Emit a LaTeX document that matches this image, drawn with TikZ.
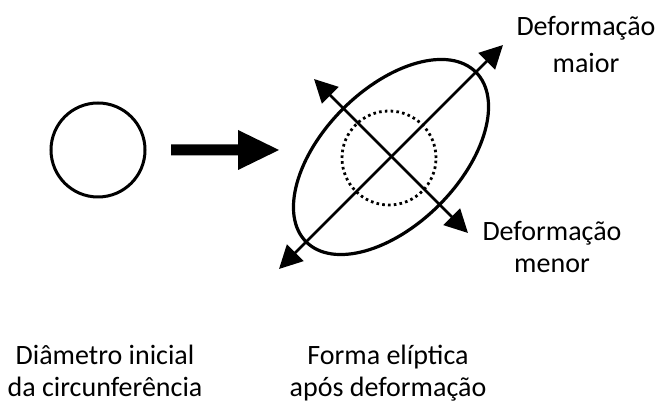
\documentclass[tikz,border=0pt]{standalone}
\usepackage{fontspec}
\setmainfont{Carlito}
\usetikzlibrary{arrows.meta}
\begin{document}
\begin{tikzpicture}[x=1pt,y=1pt,
  lbl/.style={anchor=base,inner sep=0pt,font=\fontsize{28}{32}\selectfont},
  axisline/.style={line width=2.8pt,{Triangle[length=23pt,width=23pt]}-{Triangle[length=23pt,width=23pt]}},
  outline/.style={line width=3.2pt},
  dotline/.style={line width=2.8pt,dash pattern=on 2.6pt off 3.2pt}]
\useasboundingbox (0,0) rectangle (660,403);
% initial circle
\node[circle,draw,line width=3pt,minimum size=94pt,inner sep=0pt] (ini) at (98,253) {};
% block arrow
\fill (171,247.5) -- (238,247.5) -- (238,233) -- (279,253) -- (238,273) -- (238,258.5) -- (171,258.5) -- cycle;
% ellipse
\coordinate (c) at (391,246);
\draw[outline,rotate around={45:(c)}] (c) ellipse (120 and 68);
% dotted circle
\node[circle,draw,dotline,minimum size=94pt,inner sep=0pt] (dc) at (389,245) {};
% axes
\coordinate (maj1) at (279,134);
\coordinate (maj2) at (503,358);
\coordinate (min1) at (314,324);
\coordinate (min2) at (468,170);
\draw[axisline] (maj1) -- (maj2);
\draw[axisline] (min1) -- (min2);
% labels
\node[lbl] (l1a) at (586,367) {Deformação};
\node[lbl] (l1b) at (586,330) {maior};
\node[lbl] (l2a) at (552,162) {Deformação};
\node[lbl] (l2b) at (552,130) {menor};
\node[lbl] (l3a) at (105,38) {Diâmetro inicial};
\node[lbl] (l3b) at (105,6) {da circunferência};
\node[lbl] (l4a) at (388,38) {Forma elíptica};
\node[lbl] (l4b) at (388,6) {após deformação};
\end{tikzpicture}
\end{document}
